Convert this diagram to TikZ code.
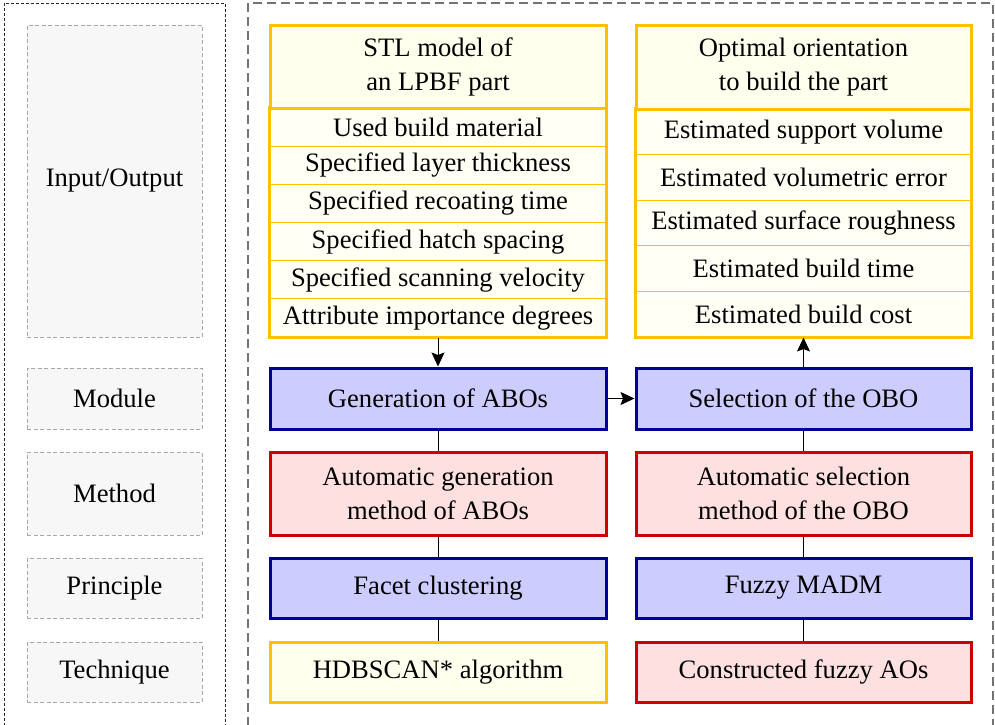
\documentclass[tikz,border=0pt]{standalone}
\usepackage{fontspec}
\setmainfont{Liberation Serif}
\usetikzlibrary{arrows.meta}

\definecolor{ylwline}{HTML}{FFC000}
\definecolor{ylwfill}{HTML}{FFFFEE}
\definecolor{ylwrow}{HTML}{FFFFF6}
\definecolor{bluline}{HTML}{000099}
\definecolor{blufill}{HTML}{CCCCFF}
\definecolor{redline}{HTML}{CC0000}
\definecolor{redfill}{HTML}{FFE0E0}
\definecolor{grayline}{HTML}{A8A8A8}
\definecolor{grayfill}{HTML}{F7F7F7}

\tikzset{
  labelbox/.style={draw=grayline, fill=grayfill, line width=1pt,
    dash pattern=on 4pt off 2.5pt, align=center, minimum width=175pt},
  ylwhead/.style={draw=ylwline, fill=ylwfill, line width=3pt, align=center},
  ylwrowbox/.style={draw=ylwline, fill=ylwrow, line width=1pt, align=center},
  ylwbox/.style={draw=ylwline, fill=ylwfill, line width=3pt, align=center},
  blubox/.style={draw=bluline, fill=blufill, line width=3pt, align=center},
  redbox/.style={draw=redline, fill=redfill, line width=3pt, align=center},
  link/.style={draw=black, line width=1pt},
  flow/.style={link, -{Stealth[length=14pt,width=13pt,inset=2.5pt]}},
}

\begin{document}
\begin{tikzpicture}[x=1pt, y=-1pt, font=\fontsize{26.6}{34}\selectfont]
\useasboundingbox (0,0) rectangle (995,724);

% outer frames (open at the bottom)
\draw[draw=black!85, line width=1pt, dash pattern=on 3pt off 2pt]
  (4,726) -- (4,3) -- (225,3) -- (225,726);
\draw[draw=black!55, line width=1.2pt, dash pattern=on 9pt off 5pt]
  (248,726) -- (248,3) -- (993,3) -- (993,726);

% level labels
\node[labelbox, minimum height=312pt] (lio)  at (114.5,181)   {Input/Output};
\node[labelbox, minimum height=61pt]  (lmod) at (114.5,398.5) {Module};
\node[labelbox, minimum height=83pt]  (lmet) at (114.5,493.5) {Method};
\node[labelbox, minimum height=60pt]  (lpri) at (114.5,588)   {Principle};
\node[labelbox, minimum height=60pt]  (ltec) at (114.5,672)   {Technique};

% input block
\foreach \i/\t in {1/Used build material, 2/Specified layer thickness,
                   3/Specified recoating time, 4/Specified hatch spacing,
                   5/Specified scanning velocity, 6/Attribute importance degrees}
  \node[ylwrowbox, minimum width=336pt, minimum height=38.17pt]
    (in\i) at (438, 108+38.17*\i-19.08) {\t};
\draw[draw=ylwline, line width=3pt] (in1.north west) rectangle (in6.south east);
\node[ylwhead, minimum width=336pt, minimum height=83pt] (inhead) at (438,66.5)
  {STL model of\\an LPBF part};

% output block
\foreach \i/\t in {1/Estimated support volume, 2/Estimated volumetric error,
                   3/Estimated surface roughness, 4/Estimated build time,
                   5/Estimated build cost}
  \node[ylwrowbox, minimum width=335pt, minimum height=45.6pt]
    (out\i) at (803.5, 109+45.6*\i-22.8) {\t};
\draw[draw=ylwline, line width=3pt] (out1.north west) rectangle (out5.south east);
\node[ylwhead, minimum width=335pt, minimum height=84pt] (outhead) at (803.5,67)
  {Optimal orientation\\to build the part};

% generation column
\node[blubox, minimum width=336pt, minimum height=61pt] (gen)  at (438,398.5) {Generation of ABOs};
\node[redbox, minimum width=336pt, minimum height=83pt] (gmet) at (438,493.5) {Automatic generation\\method of ABOs};
\node[blubox, minimum width=336pt, minimum height=60pt] (gpri) at (438,588)   {Facet clustering};
\node[ylwbox, minimum width=336pt, minimum height=60pt] (gtec) at (438,672)   {HDBSCAN* algorithm};

% selection column
\node[blubox, minimum width=335pt, minimum height=61pt] (sel)  at (803.5,398.5) {Selection of the OBO};
\node[redbox, minimum width=335pt, minimum height=83pt] (smet) at (803.5,493.5) {Automatic selection\\method of the OBO};
\node[blubox, minimum width=335pt, minimum height=60pt] (spri) at (803.5,588)   {Fuzzy MADM};
\node[redbox, minimum width=335pt, minimum height=60pt] (stec) at (803.5,672)   {Constructed fuzzy AOs};

% connectors
\draw[flow] (in6.south) -- (gen.north);
\draw[flow] (gen.east) -- (sel.west);
\draw[flow] (sel.north) -- (out5.south);
\draw[link] (gen.south) -- (gmet.north);
\draw[link] (gmet.south) -- (gpri.north);
\draw[link] (gpri.south) -- (gtec.north);
\draw[link] (sel.south) -- (smet.north);
\draw[link] (smet.south) -- (spri.north);
\draw[link] (spri.south) -- (stec.north);
\end{tikzpicture}
\end{document}
